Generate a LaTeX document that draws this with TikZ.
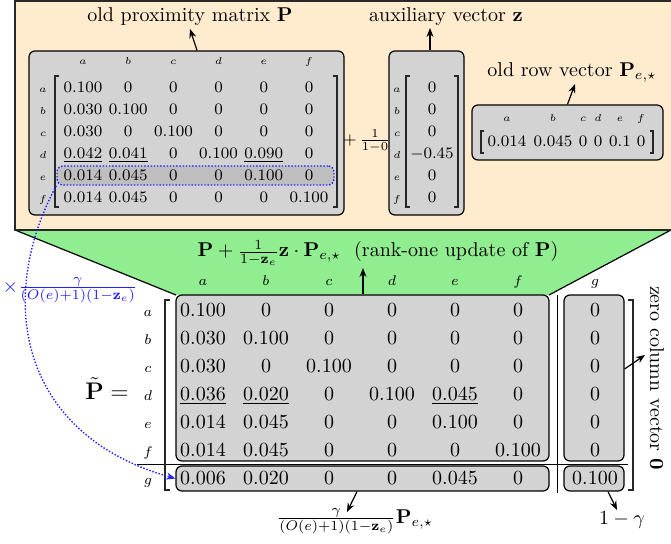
\documentclass[tikz,border=0pt]{standalone}
\usepackage{amsmath,amssymb}
\usetikzlibrary{arrows.meta,fit}
\definecolor{peach}{RGB}{255,235,205}
\definecolor{lgreen}{RGB}{144,238,144}
\definecolor{boxgray}{RGB}{211,211,211}
\definecolor{hlgray}{RGB}{190,190,190}
\definecolor{frame}{RGB}{40,40,40}
\definecolor{dotblue}{RGB}{30,30,255}
\newcommand{\mybrk}[4]{\draw[brk] ({#1+#4},#2) -- (#1,#2) -- (#1,#3) -- ({#1+#4},#3);}
\newcommand{\uprow}[3]{%
  \node[ulab] (ul#1) at (43,{92.5+22*(#1-1)}) {$#2$};
  \foreach \v [count=\c] in {#3} {\node[uval] (u#1-\c) at ({83+45.2*(\c-1)},{92.5+22*(#1-1)}) {$\v$};}
}
\newcommand{\lorow}[4]{%
  \node[llab] (ll#1) at (148,{316.5+28*(#1-1)}) {$#2$};
  \foreach \v [count=\c] in {#3} {\node[lval] (l#1-\c) at ({203+63*(\c-1)},{316.5+28*(#1-1)}) {$\v$};}
  \node[lval] (l#1-7) at (595,{316.5+28*(#1-1)}) {$#4$};
}
\begin{document}
\begin{tikzpicture}[x=0.5pt,y=-0.5pt,
  box/.style={draw=black, fill=boxgray, rounded corners=3pt, line width=0.6pt, inner sep=0pt},
  arr/.style={-{Stealth[length=4.5pt,width=3.5pt]}, line width=0.6pt},
  brk/.style={line width=0.55pt, draw=black!85},
  uval/.style={font=\fontsize{8.5}{10}\selectfont, anchor=base, inner sep=0pt},
  ulab/.style={font=\tiny, anchor=base, inner sep=0pt},
  lval/.style={font=\normalsize, anchor=base, inner sep=0pt},
  llab/.style={font=\scriptsize, anchor=base, inner sep=0pt},
  blued/.style={draw=dotblue, line width=0.7pt, dash pattern=on 0.7pt off 0.9pt},
]
\useasboundingbox (0,0) rectangle (671,544);

% green trapezoid
\coordinate (gTL) at (15,230); \coordinate (gTR) at (671,230);
\coordinate (gBR) at (549,295); \coordinate (gBL) at (176,295);
\fill[lgreen] (gTL) -- (gTR) -- (gBR) -- (gBL) -- cycle;
\draw[line width=0.6pt] (gTL) -- (gBL) (gTR) -- (gBR);

% top panel
\draw[fill=peach, draw=frame, line width=1pt] (15,1) rectangle (690,230);

% old proximity matrix box
\coordinate (oP1) at (29,51); \coordinate (oP2) at (344,215);
\node[box, fit=(oP1)(oP2)] (oldP) {};
\coordinate (h1) at (57,166); \coordinate (h2) at (334,185);
\node[fill=hlgray, blued, rounded corners=3pt, inner sep=0pt, fit=(h1)(h2)] (hl) {};

\foreach \n/\l [count=\c] in {a/a,b/b,c/c,d/d,e/e,f/f}
  \node[ulab] (uc\c) at ({83+45.2*(\c-1)},65) {$\l$};
\uprow{1}{a}{0.100,0,0,0,0,0}
\uprow{2}{b}{0.030,0.100,0,0,0,0}
\uprow{3}{c}{0.030,0,0.100,0,0,0}
\uprow{4}{d}{\underline{0.042},\underline{0.041},0,0.100,\underline{0.090},0}
\uprow{5}{e}{0.014,0.045,0,0,0.100,0}
\uprow{6}{f}{0.014,0.045,0,0,0,0.100}
\mybrk{55}{76}{207}{4}
\mybrk{337}{76}{207}{-4}

% plus fraction
\node[font=\fontsize{8.5}{10}\selectfont, inner sep=0pt] (plus) at (367,141) {$+\,\frac{1}{1-0}$};

% z vector
\coordinate (z1) at (389,51); \coordinate (z2) at (464,215);
\node[box, fit=(z1)(z2)] (zB) {};
\foreach \l/\v [count=\r] in {a/0,b/0,c/0,d/-0.45,e/0,f/0}{
  \node[ulab] (zl\r) at (397,{92.5+22*(\r-1)}) {$\l$};
  \node[uval] (zv\r) at (432,{92.5+22*(\r-1)}) {$\v$};
}
\mybrk{406}{76}{207}{4}
\mybrk{458}{76}{207}{-4}

% old row vector
\coordinate (r1) at (472,105); \coordinate (r2) at (663,160);
\node[box, fit=(r1)(r2)] (rB) {};
\foreach \x/\l/\v [count=\c] in {507/a/0.014,553/b/0.045,583/c/0,598/d/0,620/e/0.1,641/f/0}{
  \node[ulab] (rl\c) at (\x,122) {$\l$};
  \node[uval] (rv\c) at (\x,146.5) {$\v$};
}
\mybrk{481}{131}{153}{3}
\mybrk{653}{131}{153}{-3}

% top labels
\node[anchor=base] (tP) at (190,22) {old proximity matrix $\mathbf{P}$};
\node[anchor=base] (tz) at (446,22) {auxiliary vector $\mathbf{z}$};
\node[anchor=base] (tr) at (572,77) {old row vector $\mathbf{P}_{e,\star}$};
\coordinate (aP) at (190,29);
\coordinate (az) at (430,28);
\coordinate (ar) at (575,84);
\draw[arr] ([xshift=5.25pt]oldP.north) -- (aP);
\draw[arr] (zB.north -| az) -- (az);
\draw[arr] (rB.north) -- (ar);

% lower matrix boxes
\coordinate (m1) at (176,295); \coordinate (m2) at (549,461);
\node[box, fit=(m1)(m2)] (mainB) {};
\coordinate (n1) at (176,466); \coordinate (n2) at (549,491);
\node[box, fit=(n1)(n2)] (lastR) {};
\coordinate (k1) at (564,295); \coordinate (k2) at (624,461);
\node[box, fit=(k1)(k2)] (gCol) {};
\coordinate (q1) at (564,466); \coordinate (q2) at (624,491);
\node[box, fit=(q1)(q2)] (gLast) {};
\draw[line width=0.5pt] (137,465) -- (628,465);
\draw[line width=0.5pt] (557,295) -- (557,493);

\foreach \x/\l [count=\c] in {203/a,266/b,329/c,392/d,455/e,518/f,595/g}
  \node[llab] (lc\c) at (\x,286) {$\l$};
\lorow{1}{a}{0.100,0,0,0,0,0}{0}
\lorow{2}{b}{0.030,0.100,0,0,0,0}{0}
\lorow{3}{c}{0.030,0,0.100,0,0,0}{0}
\lorow{4}{d}{\underline{0.036},\underline{0.020},0,0.100,\underline{0.045},0}{0}
\lorow{5}{e}{0.014,0.045,0,0,0.100,0}{0}
\lorow{6}{f}{0.014,0.045,0,0,0,0.100}{0}
\lorow{7}{g}{0.006,0.020,0,0,0.045,0}{0.100}
\mybrk{165}{300}{490}{5}
\mybrk{633}{300}{490}{-5}

% lower labels
\node[anchor=base] (tg) at (378,257) {$\mathbf{P}+\frac{1}{1-\mathbf{z}_e}\mathbf{z}\cdot\mathbf{P}_{e,\star}$\ \ (rank-one update of $\mathbf{P}$)};
\coordinate (ag) at (363,268);
\draw[arr] (mainB.north -| ag) -- (ag);
\node[anchor=base, font=\large, inner sep=0pt] (tPt) at (107,400) {$\tilde{\mathbf{P}} =$};
\node[rotate=-90] (t0) at (657,378) {zero column vector $\mathbf{0}$};
\coordinate (a0) at (645,355);
\draw[arr] ([yshift=4.5pt]gCol.east) -- (a0);
\node (tb) at (355,521) {$\frac{\gamma}{(O(e)+1)(1-\mathbf{z}_e)}\mathbf{P}_{e,\star}$};
\coordinate (ab) at (347,512);
\draw[arr] ([xshift=-2.75pt]lastR.south) -- (ab);
\node[anchor=base] (tg1) at (622,525) {$1-\gamma$};
\coordinate (ag1) at (617,510);
\draw[arr] ([xshift=7pt]gLast.south) -- (ag1);

% blue curve
\node[text=dotblue, inner sep=0pt] (tbl) at (70,290) {$\times\frac{\gamma}{(O(e)+1)(1-\mathbf{z}_e)}$};
\draw[blued, -{Stealth[length=4.5pt,width=3.5pt]}] (hl.south west) .. controls (-5,300) and (20,435) .. (lastR.west);
\end{tikzpicture}
\end{document}
